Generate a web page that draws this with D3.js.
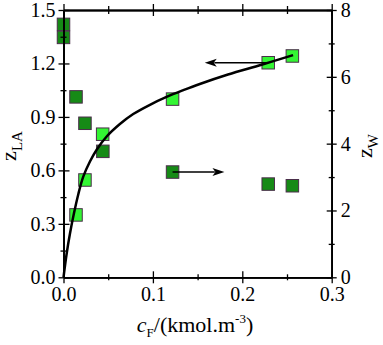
<!DOCTYPE html>
<html><head><meta charset="utf-8">
<script src="https://cdn.jsdelivr.net/npm/d3@7"></script>
</head><body style="margin:0">
<svg id="fig" width="383" height="345"></svg>
<script>
// Light green: z_LA (left axis) vs c_F
const cfLA = [0.014, 0.024, 0.0438, 0.122, 0.229, 0.256];
const zLA  = [0.35, 0.546, 0.803, 1.0, 1.204, 1.242];
// Dark green: z_W (right axis) vs c_F
const cfW = [0.0, 0.0, 0.014, 0.024, 0.044, 0.122, 0.229, 0.256];
const zW  = [7.57, 7.18, 5.40, 4.61, 3.77, 3.15, 2.79, 2.74];
// Fitted curve (left axis)
const curveX = [0, 0.0036, 0.0073, 0.0117, 0.0165, 0.0221, 0.0296, 0.0371, 0.0483, 0.0631, 0.078, 0.0967, 0.1153, 0.134, 0.1525, 0.184, 0.2215, 0.2568];
const curveY = [0, 0.135, 0.247, 0.359, 0.465, 0.565, 0.650, 0.716, 0.790, 0.860, 0.916, 0.968, 1.012, 1.050, 1.085, 1.138, 1.193, 1.247];
// Arrows: [from c, to c, value]
const arrowLA = [0.229, 0.158, 1.204];
const arrowW  = [0.122, 0.180, 3.15];
// Ticks
const xTicks = [0, 0.1, 0.2, 0.3];
const xMinor = [0.05, 0.15, 0.25];
const yLTicks = [0, 0.3, 0.6, 0.9, 1.2, 1.5];
const yLMinor = [0.15, 0.45, 0.75, 1.05, 1.35];
const yRTicks = [0, 2, 4, 6, 8];
const yRMinor = [1, 3, 5, 7];

const svg = d3.select("#fig");
const L = 63.5, R = 331.7, T = 10, B = 277.3;
const x = d3.scaleLinear().domain([0, 0.3]).range([L, R]);
const yL = d3.scaleLinear().domain([0, 1.5]).range([B, T]);
const yR = d3.scaleLinear().domain([0, 8]).range([B, T]);

const lightFill = "#33f533", darkFill = "#168a16", edge = "#4a2e4a";
const sq = 12.5;

function serif(sel, size){
  return sel.attr("font-family", "Liberation Serif")
    .style("font-family", '"Liberation Serif"', "important")
    .style("font-size", size + "px");
}

// squares
svg.append("g").selectAll("rect").data(cfW.map((c,i)=>[c,zW[i]])).join("rect")
  .attr("x", d=>x(d[0])-sq/2).attr("y", d=>yR(d[1])-sq/2)
  .attr("width", sq).attr("height", sq)
  .attr("fill", darkFill).attr("stroke", edge).attr("stroke-width", 1);
svg.append("g").selectAll("rect").data(cfLA.map((c,i)=>[c,zLA[i]])).join("rect")
  .attr("x", d=>x(d[0])-sq/2).attr("y", d=>yL(d[1])-sq/2)
  .attr("width", sq).attr("height", sq)
  .attr("fill", lightFill).attr("stroke", edge).attr("stroke-width", 1);

// curve
const line = d3.line().x(d=>x(d[0])).y(d=>yL(d[1])).curve(d3.curveCatmullRom.alpha(0.5));
svg.append("path").datum(curveX.map((c,i)=>[c,curveY[i]]))
  .attr("d", line).attr("fill","none").attr("stroke","#000").attr("stroke-width",2.5);

// arrows
function arrow(x0, x1, yy){
  const dir = Math.sign(x1 - x0), hl = 12, hw = 4;
  svg.append("line").attr("x1", x0).attr("x2", x1 - dir*hl*0.8).attr("y1", yy).attr("y2", yy)
    .attr("stroke","#000").attr("stroke-width",1.5);
  svg.append("path").attr("d", `M${x1},${yy}L${x1-dir*hl},${yy-hw}L${x1-dir*hl*0.75},${yy}L${x1-dir*hl},${yy+hw}Z`)
    .attr("fill","#000");
}
arrow(x(arrowLA[0]), x(arrowLA[1]), yL(arrowLA[2]));
arrow(x(arrowW[0]), x(arrowW[1]), yR(arrowW[2]));

// axes
function ax(gen, tr, vals, size, fmt){
  const g = svg.append("g").attr("transform", tr)
    .call(gen.tickValues(vals).tickSize(size).tickSizeOuter(0).tickFormat(fmt).tickPadding(4));
  g.attr("font-family", "Liberation Serif").attr("font-size", 20);
  g.select(".domain").attr("stroke","#000").attr("stroke-width",1.5);
  g.selectAll(".tick line").attr("stroke","#000").attr("stroke-width",1.3);
  serif(g.selectAll("text"), 20).attr("fill","#000");
  return g;
}
const none = () => "";
const f1 = d3.format(".1f");
// bottom
ax(d3.axisBottom(x), `translate(0,${B})`, xTicks, 6, f1).selectAll("text").attr("dy","0.78em").attr("y", 8);
ax(d3.axisBottom(x), `translate(0,${B})`, xTicks, -6, none);
ax(d3.axisBottom(x), `translate(0,${B})`, xMinor, 3, none);
ax(d3.axisBottom(x), `translate(0,${B})`, xMinor, -3, none);
// top
ax(d3.axisTop(x), `translate(0,${T})`, xTicks, 6, none);
ax(d3.axisTop(x), `translate(0,${T})`, xTicks, -6, none);
ax(d3.axisTop(x), `translate(0,${T})`, xMinor, 4, none);
ax(d3.axisTop(x), `translate(0,${T})`, xMinor, -4, none);
// left
ax(d3.axisLeft(yL), `translate(${L},0)`, yLTicks, 5, f1).selectAll("text").attr("x", -8);
ax(d3.axisLeft(yL), `translate(${L},0)`, yLTicks, -6, none);
ax(d3.axisLeft(yL), `translate(${L},0)`, yLMinor, 3, none);
ax(d3.axisLeft(yL), `translate(${L},0)`, yLMinor, -3, none);
// right
ax(d3.axisRight(yR), `translate(${R},0)`, yRTicks, 5, d3.format("d")).selectAll("text").attr("x", 9);
ax(d3.axisRight(yR), `translate(${R},0)`, yRTicks, -5, none);
ax(d3.axisRight(yR), `translate(${R},0)`, yRMinor, 3, none);
ax(d3.axisRight(yR), `translate(${R},0)`, yRMinor, -3, none);

// axis titles
const xt = serif(svg.append("text").attr("x", 195).attr("y", 332).attr("text-anchor","middle"), 22);
xt.append("tspan").text("c").style("font-style","italic");
xt.append("tspan").text("F").style("font-size","13px").attr("dy", 5);
xt.append("tspan").text("/(kmol.m").attr("dy", -5);
xt.append("tspan").text("-3").style("font-size","13px").attr("dy", -9);
xt.append("tspan").text(")").attr("dy", 9);

const yt = serif(svg.append("text").attr("transform","translate(16,146) rotate(-90)").attr("text-anchor","middle"), 22);
yt.append("tspan").text("z");
yt.append("tspan").text("LA").style("font-size","15px").attr("dy", 6);

const rt = serif(svg.append("text").attr("transform","translate(372,146) rotate(-90)").attr("text-anchor","middle"), 22);
rt.append("tspan").text("z");
rt.append("tspan").text("W").style("font-size","15px").attr("dy", 6);
</script>
</body></html>
